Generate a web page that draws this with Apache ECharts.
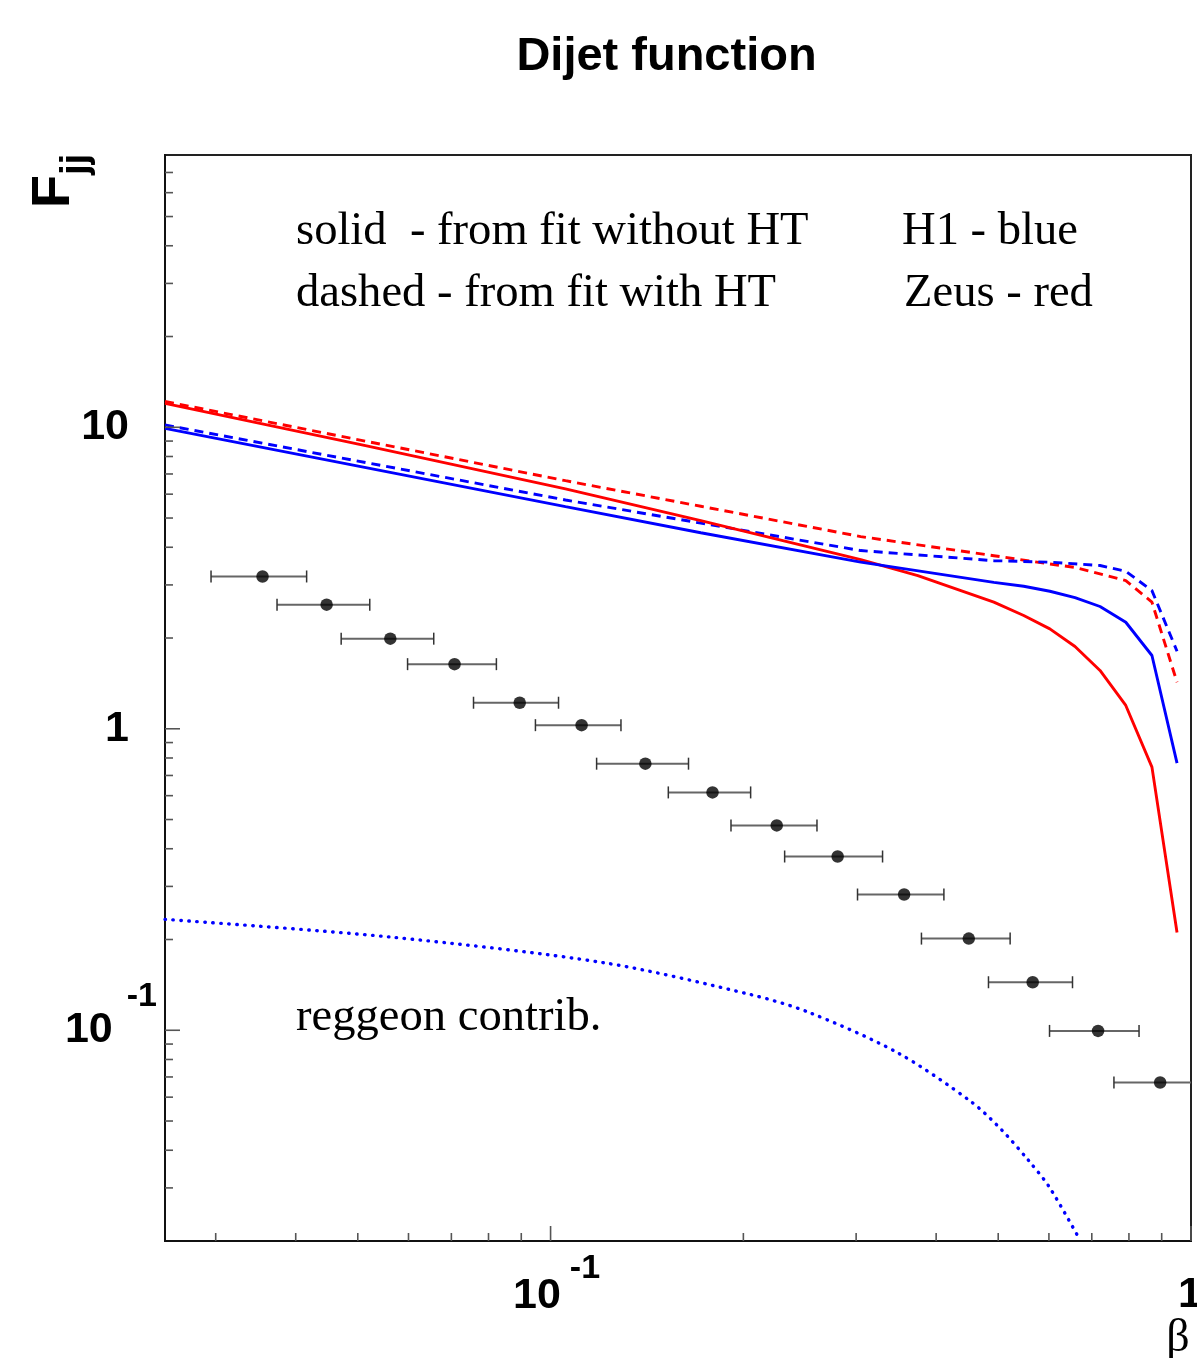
<!DOCTYPE html>
<html><head><meta charset="utf-8">
<script src="https://cdn.jsdelivr.net/npm/echarts@6/dist/echarts.min.js"></script>
<style>html,body{margin:0;padding:0;background:#fff}#c{width:1197px;height:1358px}</style>
</head><body><div id="c"></div>
<script>
// ---- data ----
const pointsX     = [0.0355, 0.0447, 0.0562, 0.0708, 0.0895, 0.1118, 0.1406, 0.179, 0.2255, 0.2807, 0.3565, 0.4498, 0.566, 0.716, 0.895];
const pointsY     = [3.20, 2.58, 1.99, 1.638, 1.22, 1.028, 0.766, 0.615, 0.478, 0.377, 0.282, 0.2014, 0.1443, 0.0995, 0.0671];
const pointsXLow  = [0.0295, 0.0374, 0.0471, 0.0598, 0.0758, 0.0947, 0.118, 0.1527, 0.1913, 0.232, 0.3015, 0.3794, 0.4828, 0.6013, 0.758];
const pointsXHigh = [0.0416, 0.0522, 0.0657, 0.0823, 0.1029, 0.1288, 0.1642, 0.2053, 0.2606, 0.3299, 0.4113, 0.5219, 0.6531, 0.8296, 1.03];

const zeusSolidX  = [0.025, 0.0514, 0.1055, 0.1716, 0.305, 0.3745, 0.4922, 0.548, 0.602, 0.659, 0.721, 0.791, 0.869, 0.951];
const zeusSolidY  = [12.0, 8.69, 6.245, 4.90, 3.64, 3.22, 2.63, 2.375, 2.145, 1.874, 1.561, 1.195, 0.746, 0.211];
const zeusDashedX = [0.025, 0.1055, 0.1716, 0.305, 0.4922, 0.602, 0.659, 0.721, 0.791, 0.869, 0.951];
const zeusDashedY = [12.18, 6.65, 5.47, 4.34, 3.75, 3.52, 3.43, 3.265, 3.10, 2.63, 1.427];
const h1SolidX    = [0.025, 0.1055, 0.1716, 0.305, 0.4922, 0.548, 0.602, 0.659, 0.721, 0.791, 0.869, 0.951];
const h1SolidY    = [9.92, 5.456, 4.47, 3.57, 3.06, 2.97, 2.858, 2.724, 2.544, 2.256, 1.75, 0.769];
const h1DashedX   = [0.025, 0.1055, 0.1716, 0.305, 0.4922, 0.602, 0.721, 0.791, 0.869, 0.951];
const h1DashedY   = [10.18, 5.74, 4.81, 3.90, 3.61, 3.57, 3.48, 3.33, 2.873, 1.808];
const reggeonX    = [0.025, 0.05623, 0.1219, 0.2054, 0.2522, 0.3473, 0.4543, 0.5067, 0.5588, 0.6006, 0.6667];
const reggeonY    = [0.2333, 0.2038, 0.1671, 0.1313, 0.1150, 0.0845, 0.0578, 0.04662, 0.03679, 0.03024, 0.02065];

const xMajorTicks = [0.1, 1];
const xMinorTicks = [0.03, 0.04, 0.05, 0.06, 0.07, 0.08, 0.09, 0.2, 0.3, 0.4, 0.5, 0.6, 0.7, 0.8, 0.9];
const yMajorTicks = [0.1, 1, 10];
const yMinorTicks = [0.03, 0.04, 0.05, 0.06, 0.07, 0.08, 0.09, 0.2, 0.3, 0.4, 0.5, 0.6, 0.7, 0.8, 0.9,
                     2, 3, 4, 5, 6, 7, 8, 9, 20, 30, 40, 50, 60, 70];
const tickLabels  = {'-1': ['10', '-1'], '0': ['1', null], '1': ['10', null]};
const xEdgeLabelValues = [1];   // x tick label at the right end of the axis

// ---- helpers ----
const zip = (a, b) => a.map((v, i) => [v, b[i]]);
function exp10(v) { const e = Math.log10(v); const r = Math.round(e); return Math.abs(e - r) < 1e-6 ? String(r) : null; }

function tickSeries(values, isX, len) {
  return {
    type: 'custom', silent: true, z: 6, animation: false,
    data: values.map(v => isX ? [v, 1] : [0.1, v]),
    renderItem(params, api) {
      const cs = params.coordSys;
      const p = api.coord([api.value(0), api.value(1)]);
      const shape = isX
        ? {x1: p[0], y1: cs.y + cs.height, x2: p[0], y2: cs.y + cs.height - len}
        : {x1: cs.x, y1: p[1], x2: cs.x + len, y2: p[1]};
      return {type: 'line', shape, style: {stroke: '#555', lineWidth: 1.6}};
    }
  };
}

const chart = echarts.init(document.getElementById('c'), null, {renderer: 'canvas'});
const SANS = 'Liberation Sans';

chart.setOption({
  animation: false,
  backgroundColor: '#fff',
  grid: {left: 165, right: 6, top: 155, bottom: 117, containLabel: false, outerBoundsMode: 'none',
         show: true, borderColor: '#222', borderWidth: 2, backgroundColor: 'transparent'},
  xAxis: {
    type: 'log', logBase: 10, min: 0.025, max: 1,
    axisLine: {show: true, lineStyle: {color: '#111', width: 2}},
    axisTick: {show: false}, splitLine: {show: false}, minorTick: {show: false},
    axisLabel: {
      margin: 11, showMinLabel: false, showMaxLabel: false,
      formatter(v) { const e = exp10(v); if (e === null || e === '0' || !tickLabels[e]) return ''; const t = tickLabels[e]; return t[1] ? '{b|' + t[0] + '}{s|' + t[1] + '}' : '{b|' + t[0] + '}'; },
      rich: {
        b: {fontFamily: SANS, fontWeight: 'bold', fontSize: 43, color: '#000', padding: [23, 9, 0, 12], verticalAlign: 'bottom'},
        s: {fontFamily: SANS, fontWeight: 'bold', fontSize: 34, color: '#000', verticalAlign: 'top'}
      }
    }
  },
  yAxis: {
    type: 'log', logBase: 10, min: 0.02, max: 80,
    axisLine: {show: true, lineStyle: {color: '#111', width: 2}},
    axisTick: {show: false}, splitLine: {show: false}, minorTick: {show: false},
    axisLabel: {
      margin: 8,
      formatter(v) { const e = exp10(v); if (e === null || !tickLabels[e]) return ''; const t = tickLabels[e]; return t[1] ? '{b|' + t[0] + '}{s|' + t[1] + '}' : '{p|' + t[0] + '}'; },
      rich: {
        p: {fontFamily: SANS, fontWeight: 'bold', fontSize: 43, color: '#000', padding: [0, 28, 0, 0]},
        b: {fontFamily: SANS, fontWeight: 'bold', fontSize: 43, color: '#000', padding: [29, 14, 29, 0]},
        s: {fontFamily: SANS, fontWeight: 'bold', fontSize: 34, color: '#000', verticalAlign: 'top'}
      }
    }
  },
  graphic: [
    {type: 'text', x: 666.5, y: 56.7, style: {text: 'Dijet function', font: 'bold 47px "Liberation Sans"', fill: '#000', align: 'center', verticalAlign: 'middle'}},
    {type: 'text', x: 54.3, y: 208, rotation: Math.PI / 2, style: {text: 'F', font: 'bold 54px "Liberation Sans"', fill: '#000', align: 'left', verticalAlign: 'middle'}},
    {type: 'text', x: 76.8, y: 175, rotation: Math.PI / 2, style: {text: 'jj', font: 'bold 38px "Liberation Sans"', fill: '#000', align: 'left', verticalAlign: 'middle'}},
    {type: 'text', x: 296, y: 232, style: {text: 'solid  - from fit without HT', font: '46.6px "Liberation Serif"', fill: '#000', verticalAlign: 'middle'}},
    {type: 'text', x: 296, y: 294, style: {text: 'dashed - from fit with HT', font: '46.6px "Liberation Serif"', fill: '#000', verticalAlign: 'middle'}},
    {type: 'text', x: 902, y: 232, style: {text: 'H1 - blue', font: '46.6px "Liberation Serif"', fill: '#000', verticalAlign: 'middle'}},
    {type: 'text', x: 904, y: 294, style: {text: 'Zeus - red', font: '46.6px "Liberation Serif"', fill: '#000', verticalAlign: 'middle'}},
    {type: 'text', x: 296, y: 1018, style: {text: 'reggeon contrib.', font: '46.6px "Liberation Serif"', fill: '#000', verticalAlign: 'middle'}},
    {type: 'text', x: 1178, y: 1339, style: {text: 'β', font: '46px "Liberation Serif"', fill: '#000', align: 'center', verticalAlign: 'middle'}}
  ],
  series: [
    tickSeries(xMajorTicks, true, 15),
    tickSeries(xMinorTicks, true, 8),
    tickSeries(yMajorTicks, false, 15),
    tickSeries(yMinorTicks, false, 8),
    // x tick label at the axis end, placed through the x scale
    {type: 'custom', silent: true, z: 6,
     data: xEdgeLabelValues.map(v => [v, 1]),
     renderItem(params, api) {
       const cs = params.coordSys;
       const p = api.coord([api.value(0), api.value(1)]);
       return {type: 'text', x: p[0] - 1, y: cs.y + cs.height + 54,
               style: {text: tickLabels[exp10(api.value(0))][0], font: 'bold 43px "Liberation Sans"', fill: '#000', align: 'center', verticalAlign: 'middle'}};
     }},
    {type: 'line', data: zip(reggeonX, reggeonY), symbol: 'none', smooth: 0.3, clip: true, silent: true, z: 3,
     lineStyle: {color: '#0000ff', width: 3.4, type: [0.5, 7.5], cap: 'round'}},
    {type: 'line', data: zip(zeusDashedX, zeusDashedY), symbol: 'none', clip: true, silent: true, z: 3,
     lineStyle: {color: '#ff0000', width: 2.9, type: [9, 6]}},
    {type: 'line', data: zip(h1DashedX, h1DashedY), symbol: 'none', clip: true, silent: true, z: 3,
     lineStyle: {color: '#0000ff', width: 2.9, type: [9, 6]}},
    {type: 'line', data: zip(zeusSolidX, zeusSolidY), symbol: 'none', clip: true, silent: true, z: 3,
     lineStyle: {color: '#ff0000', width: 2.9}},
    {type: 'line', data: zip(h1SolidX, h1SolidY), symbol: 'none', clip: true, silent: true, z: 3,
     lineStyle: {color: '#0000ff', width: 2.9}},
    {type: 'custom', silent: true, z: 4,
     data: pointsY.map((y, i) => [pointsXLow[i], y, pointsXHigh[i]]),
     encode: {x: [0, 2], y: 1},
     renderItem(params, api) {
       const cs = params.coordSys;
       const y = api.value(1);
       const a = api.coord([api.value(0), y]);
       const b = api.coord([api.value(2), y]);
       const right = cs.x + cs.width;
       const children = [];
       let x2 = b[0]; let capR = true;
       if (x2 > right) { x2 = right; capR = false; }
       children.push({type: 'line', shape: {x1: a[0], y1: a[1], x2: x2, y2: a[1]}, style: {stroke: '#666', lineWidth: 2}});
       children.push({type: 'line', shape: {x1: a[0], y1: a[1] - 6, x2: a[0], y2: a[1] + 6}, style: {stroke: '#333', lineWidth: 1.5}});
       if (capR) children.push({type: 'line', shape: {x1: x2, y1: a[1] - 6, x2: x2, y2: a[1] + 6}, style: {stroke: '#333', lineWidth: 1.5}});
       return {type: 'group', children};
     }},
    {type: 'scatter', data: zip(pointsX, pointsY), symbol: 'circle', symbolSize: 12.5, silent: true, z: 5,
     itemStyle: {color: '#000'}}
  ]
});
</script>
</body></html>
